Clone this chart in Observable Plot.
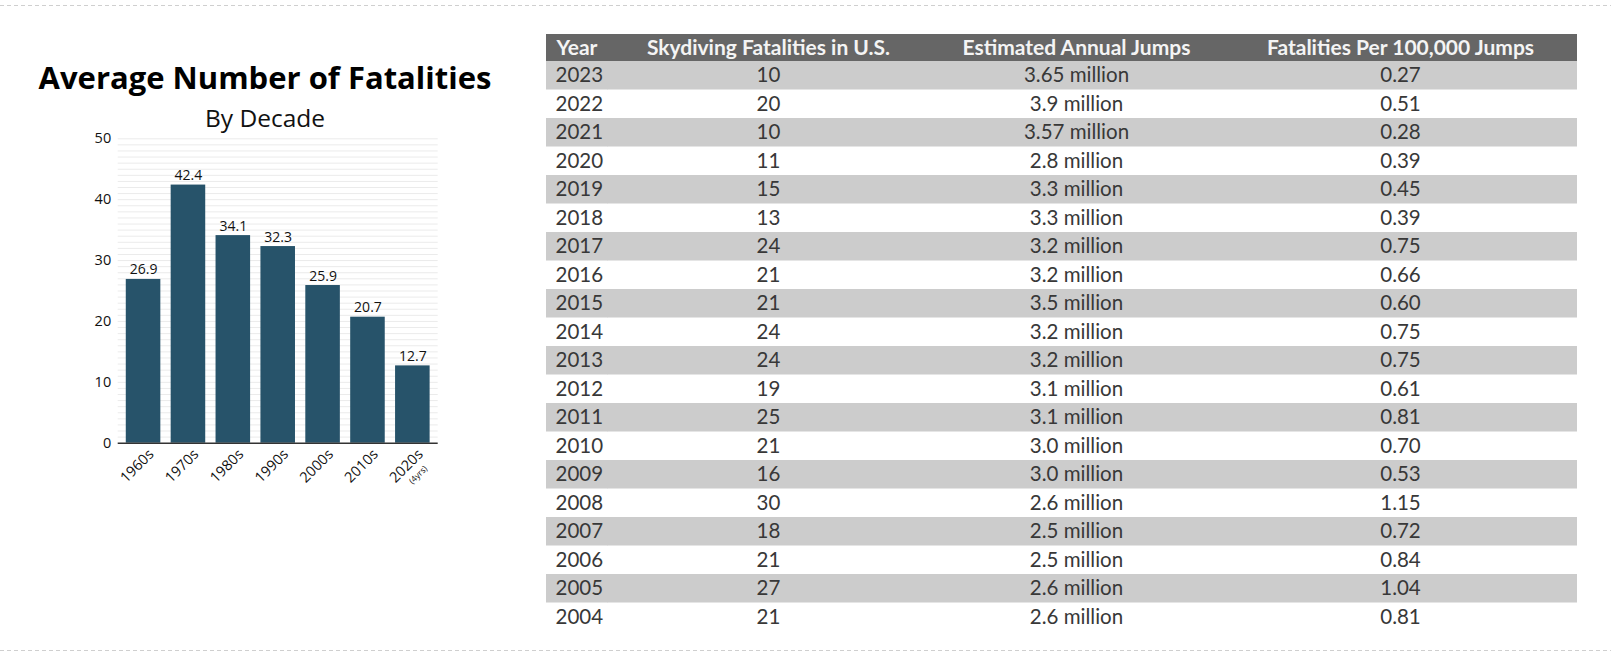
<!DOCTYPE html>
<html>
<head>
<meta charset="utf-8">
<script src="https://cdn.jsdelivr.net/npm/d3@7"></script>
<script src="https://cdn.jsdelivr.net/npm/@observablehq/plot@0.6"></script>
<style>
  html, body { margin: 0; padding: 0; background: #fff; }
  body { width: 1611px; height: 672px; position: relative; overflow: hidden; font-family: "Open Sans", sans-serif; }
  .dash { position: absolute; left: 0; width: 1611px; height: 1px;
          background: repeating-linear-gradient(to right, #cfcfcf 0 4px, transparent 4px 7px); }
  #title { position: absolute; left: 0; width: 530px; top: 56px; line-height: 1; text-align: center;
           font: 700 31px "Open Sans", sans-serif; color: #000; white-space: nowrap; }
  #subtitle { position: absolute; left: 0; width: 530px; top: 101px; line-height: 1; text-align: center;
              font: 400 24.5px "Open Sans", sans-serif; color: #111; white-space: nowrap; }
  #bars { position: absolute; left: 0; top: 128px; }
  #table { position: absolute; left: 545.5px; top: 34px; display: flex; }
  .col { position: relative; background: linear-gradient(#666 0 27px, transparent 27px); }
  .col svg { display: block; }
</style>
</head>
<body>
<div class="dash" style="top:5px"></div>
<div class="dash" style="top:650px"></div>
<div id="title">Average Number of Fatalities</div>
<div id="subtitle">By Decade</div>
<div id="bars"></div>
<div id="table"></div>
<script>
// ---- Bar chart data ----
const decades = ["1960s", "1970s", "1980s", "1990s", "2000s", "2010s", "2020s"];
const avgFatalities = [26.9, 42.4, 34.1, 32.3, 25.9, 20.7, 12.7];
const decadeNotes = ["", "", "", "", "", "", "(4yrs)"];
const yTicks = [0, 10, 20, 30, 40, 50];
const gridTicks = d3.range(1, 51);

// ---- Table data ----
const tableHeaders = ["Year", "Skydiving Fatalities in U.S.", "Estimated Annual Jumps", "Fatalities Per 100,000 Jumps"];
const years = [2023, 2022, 2021, 2020, 2019, 2018, 2017, 2016, 2015, 2014, 2013, 2012, 2011, 2010, 2009, 2008, 2007, 2006, 2005, 2004];
const fatalities = [10, 20, 10, 11, 15, 13, 24, 21, 21, 24, 24, 19, 25, 21, 16, 30, 18, 21, 27, 21];
const jumpsMillions = [3.65, 3.9, 3.57, 2.8, 3.3, 3.3, 3.2, 3.2, 3.5, 3.2, 3.2, 3.1, 3.1, 3.0, 3.0, 2.6, 2.5, 2.5, 2.6, 2.6];
const ratePer100k = [0.27, 0.51, 0.28, 0.39, 0.45, 0.39, 0.75, 0.66, 0.60, 0.75, 0.75, 0.61, 0.81, 0.70, 0.53, 1.15, 0.72, 0.84, 1.04, 0.81];

// ---- Bar chart ----
const barData = decades.map((d, i) => ({decade: d, value: avgFatalities[i], note: decadeNotes[i]}));
const bars = Plot.plot({
  width: 460, height: 370,
  marginTop: 10.3, marginBottom: 55.3, marginLeft: 117.7, marginRight: 22.3,
  style: {fontFamily: "Open Sans, sans-serif", fontSize: "14px", color: "#111", background: "transparent", overflow: "visible"},
  x: {domain: decades, paddingInner: 0.23, paddingOuter: 0.18, round: false, axis: null},
  y: {domain: [0, 50]},
  marks: [
    Plot.ruleY(gridTicks, {stroke: "#ebebeb", strokeWidth: 1}),
    Plot.axisY({ticks: yTicks, tickSize: 0, tickPadding: 7, fontSize: 14.5, label: null, fill: "#111"}),
    Plot.barY(barData, {x: "decade", y: "value", fill: "#27536a"}),
    Plot.text(barData, {x: "decade", y: "value", text: d => d.value.toFixed(1), dy: -5, lineAnchor: "bottom", fontSize: 14, fill: "#111"}),
    Plot.ruleY([0], {stroke: "#333", strokeWidth: 1.5}),
    Plot.text(barData, {x: "decade", frameAnchor: "bottom", text: "decade", rotate: -45, textAnchor: "end", dx: 11, dy: 12, fontSize: 14.5, fill: "#111"}),
    Plot.text(barData.filter(d => d.note), {x: "decade", frameAnchor: "bottom", text: "note", rotate: -45, textAnchor: "end", dx: 15, dy: 26, fontSize: 8.5, fill: "#111"})
  ]
});
document.getElementById("bars").append(bars);

// ---- Table (one Plot per column) ----
const rows = years.map((y, i) => ({
  year: String(y),
  fatal: String(fatalities[i]),
  jumps: (Number.isInteger(Math.round(jumpsMillions[i] * 100) / 10) ? jumpsMillions[i].toFixed(1) : jumpsMillions[i].toFixed(2)) + " million",
  rate: ratePer100k[i].toFixed(2)
}));
const shaded = rows.filter((d, i) => i % 2 === 0);
const columns = [
  {field: "year", header: tableHeaders[0], width: 61.5, align: "left"},
  {field: "fatal", header: tableHeaders[1], width: 322, align: "middle"},
  {field: "jumps", header: tableHeaders[2], width: 294, align: "middle"},
  {field: "rate", header: tableHeaders[3], width: 354, align: "middle"}
];
const tableEl = document.getElementById("table");
for (const c of columns) {
  const left = c.align === "left";
  const p = Plot.plot({
    width: c.width, height: 597,
    marginTop: 27, marginBottom: 0, marginLeft: 0, marginRight: 0,
    style: {fontFamily: "Lato, sans-serif", background: "transparent", overflow: "visible"},
    y: {type: "band", domain: rows.map(d => d.year), padding: 0, round: false, axis: null},
    marks: [
      Plot.cell(shaded, {y: "year", fill: "#cccccc"}),
      Plot.text(rows, {y: "year", text: c.field, frameAnchor: left ? "left" : "middle", textAnchor: left ? "start" : "middle",
                       dx: left ? 9 : 0, fontSize: 20.5, fill: "#383838"}),
      Plot.text([c.header], {frameAnchor: left ? "top-left" : "top", textAnchor: left ? "start" : "middle",
                             dx: left ? 10 : 0, dy: -13.5, lineAnchor: "middle", fontSize: 21, fontWeight: "bold", fill: "#f4f4f4"})
    ]
  });
  const wrap = document.createElement("div");
  wrap.className = "col";
  wrap.style.width = c.width + "px";
  wrap.append(p);
  tableEl.append(wrap);
}
</script>
</body>
</html>
